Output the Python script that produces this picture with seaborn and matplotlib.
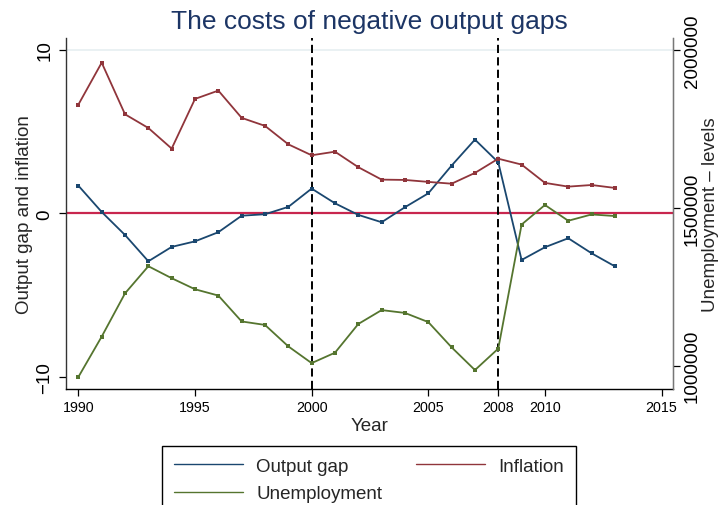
import matplotlib
matplotlib.use("Agg")
import matplotlib.pyplot as plt
import seaborn as sns
import pandas as pd

# Annual series
years = [1990, 1991, 1992, 1993, 1994, 1995, 1996, 1997, 1998, 1999, 2000, 2001,
         2002, 2003, 2004, 2005, 2006, 2007, 2008, 2009, 2010, 2011, 2012, 2013]
output_gap = [1.69, 0.08, -1.33, -2.94, -2.06, -1.72, -1.16, -0.15, -0.06, 0.39, 1.51, 0.61,
              -0.10, -0.55, 0.37, 1.22, 2.92, 4.51, 3.12, -2.86, -2.08, -1.53, -2.45, -3.25]
inflation = [6.65, 9.22, 6.06, 5.22, 3.96, 7.00, 7.51, 5.84, 5.35, 4.22, 3.55, 3.77,
             2.82, 2.06, 2.04, 1.92, 1.81, 2.47, 3.34, 2.98, 1.86, 1.63, 1.73, 1.55]
unemployment = [964000, 1092000, 1229000, 1315000, 1277000, 1242000, 1222000, 1140000,
                1129000, 1061000, 1008000, 1041000, 1132000, 1176000, 1167000, 1138000,
                1058000, 986000, 1054000, 1447000, 1509000, 1459000, 1479000, 1474000]

x_ticks = [1990, 1995, 2000, 2005, 2008, 2010, 2015]
left_ticks = [-10, 0, 10]
right_ticks = [1000000, 1500000, 2000000]
event_years = [2000, 2008]

df = pd.DataFrame({"Year": years, "Output gap": output_gap,
                   "Inflation": inflation, "Unemployment": unemployment})

sns.set_style("ticks")
plt.rcParams["font.family"] = ["Liberation Sans", "DejaVu Sans"]

C_GAP = "#1a476f"
C_INF = "#90353b"
C_UNE = "#55752f"

fig = plt.figure(figsize=(7.19, 5.06), dpi=100)
ax = fig.add_axes([66 / 719, 1 - 390 / 506, 607 / 719, 351 / 506])
ax2 = ax.twinx()

# reference lines
ax.axhline(10, color="#e6eff1", lw=1.2, zorder=0)
ax.axhline(0, color="#c8264e", lw=1.6, zorder=1)
for yr in event_years:
    ax.axvline(yr, color="black", lw=1.4, ls=(0, (4.2, 2.2)), zorder=1)

mk = dict(marker="s", markersize=2.3, markeredgewidth=0)
sns.lineplot(data=df, x="Year", y="Output gap", color=C_GAP, lw=1.3, ax=ax,
             label="Output gap", zorder=3, **mk)
sns.lineplot(data=df, x="Year", y="Inflation", color=C_INF, lw=1.3, ax=ax,
             label="Inflation", zorder=3, **mk)
sns.lineplot(data=df, x="Year", y="Unemployment", color=C_UNE, lw=1.3, ax=ax2,
             label="Unemployment", zorder=3, **mk)

for a in (ax, ax2):
    if a.get_legend() is not None:
        a.get_legend().remove()

ax.set_xlim(1989.47, 2015.49)
ax.set_ylim(-10.76, 10.73)
ax2.set_ylim(926000, 2038000)

ax.set_xticks(x_ticks)
ax.set_xticklabels([str(t) for t in x_ticks])
ax.set_yticks(left_ticks)
ax.set_yticklabels(["\u221210", "0", "10"])
ax2.set_yticks(right_ticks)
ax2.set_yticklabels([str(t) for t in right_ticks])

ax.tick_params(axis="x", labelsize=10.3, length=5, width=0.9, pad=3, colors="black")
ax.tick_params(axis="y", labelsize=13.5, length=5, width=0.9, pad=4, colors="black")
ax2.tick_params(axis="y", labelsize=13.5, length=5, width=0.9, pad=3, colors="black")
for lab in ax.get_yticklabels():
    lab.set_rotation(90)
    lab.set_verticalalignment("center")
    lab.set_horizontalalignment("right")
for lab in ax2.get_yticklabels():
    lab.set_rotation(90)
    lab.set_verticalalignment("center")
    lab.set_horizontalalignment("left")

for a in (ax, ax2):
    a.spines["top"].set_visible(False)
ax.spines["left"].set_color("#333333")
ax.spines["bottom"].set_color("black")
ax2.spines["right"].set_color("#777777")
ax2.spines["left"].set_visible(False)
ax2.spines["bottom"].set_visible(False)
for s in ("left", "bottom"):
    ax.spines[s].set_linewidth(1.0)
ax2.spines["right"].set_linewidth(1.0)

ax.set_xlabel("Year", fontsize=13.5)
ax.xaxis.set_label_coords(0.5, -0.08)
ax.set_ylabel("Output gap and inflation", fontsize=13.5)
ax.yaxis.set_label_coords(-0.054, 0.5)
ax2.set_ylabel("Unemployment \u2013 levels", fontsize=13.5, rotation=90)
ax2.yaxis.set_label_coords(1.048, 0.5)

ax.set_title("The costs of negative output gaps", fontsize=19, color="#1c3565", pad=7.2)

h1, l1 = ax.get_legend_handles_labels()
h2, l2 = ax2.get_legend_handles_labels()
handles = dict(zip(l1 + l2, h1 + h2))
order = ["Output gap", "Unemployment", "Inflation"]
leg = fig.legend([handles[k] for k in order], order, loc="upper center",
                 bbox_to_anchor=(369 / 719, 1 - 447 / 506), ncol=2, fontsize=13.5,
                 frameon=True, fancybox=False, framealpha=1, edgecolor="black",
                 handlelength=3.7, handletextpad=0.7, columnspacing=1.8,
                 borderpad=0.62, labelspacing=0.55, borderaxespad=0)
leg.get_frame().set_linewidth(1.0)
for ln in leg.get_lines():
    ln.set_marker("")
    ln.set_linewidth(1.0)

fig.savefig("out.png", dpi=100)
